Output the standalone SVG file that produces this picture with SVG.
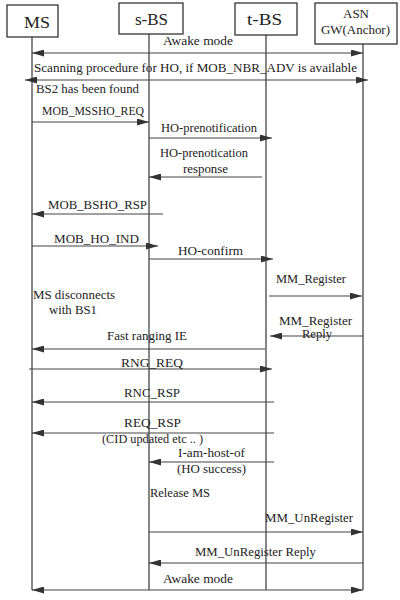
<svg xmlns="http://www.w3.org/2000/svg" width="400" height="600" viewBox="0 0 400 600">
<style>
text{font-family:"Liberation Serif","Times New Roman",serif;fill:#222;font-size:12px}
.box{fill:#fff;stroke:#333;stroke-width:1.3}
.big{font-size:17px}
.life{stroke:#444;stroke-width:1.3}
.msg{stroke:#444;stroke-width:1.2;fill:none}
.r{marker-end:url(#ah)}
.l{marker-start:url(#ahs)}
</style>
<defs>
<marker id="ah" markerUnits="userSpaceOnUse" markerWidth="13" markerHeight="8" refX="12" refY="3.5" orient="auto"><path d="M0,0 L12,3.5 L0,7 z" fill="#333"/></marker>
<marker id="ahs" markerUnits="userSpaceOnUse" markerWidth="13" markerHeight="8" refX="0" refY="3.5" orient="auto"><path d="M12,0 L0,3.5 L12,7 z" fill="#333"/></marker>
</defs>
<rect width="400" height="600" fill="#fff"/>
<g id="lifelines">
<line class="life" x1="32" y1="37" x2="32" y2="590"/>
<line class="life" x1="149" y1="34" x2="149" y2="590"/>
<line class="life" x1="266" y1="35" x2="266" y2="590"/>
<line class="life" x1="363" y1="44" x2="363" y2="590"/>
</g>
<g id="ms"><rect class="box" x="7" y="5" width="51" height="32"/><text class="big" x="24" y="28" textLength="26" lengthAdjust="spacingAndGlyphs">MS</text></g>
<g id="sbs"><rect class="box" x="119" y="3" width="64" height="31"/><text class="big" x="135" y="25" textLength="33" lengthAdjust="spacingAndGlyphs">s-BS</text></g>
<g id="tbs"><rect class="box" x="235" y="3" width="62" height="32"/><text class="big" x="247" y="25" textLength="35" lengthAdjust="spacingAndGlyphs">t-BS</text></g>
<g id="asn"><rect class="box" x="315" y="3" width="82" height="41"/><text x="343" y="18" textLength="26" lengthAdjust="spacingAndGlyphs">ASN</text><text x="321" y="34" textLength="69" lengthAdjust="spacingAndGlyphs">GW(Anchor)</text></g>
<g id="connectors">
<line class="msg r l" x1="32" y1="53" x2="363" y2="53"/>
<line class="msg r l" x1="25" y1="80" x2="368" y2="80"/>
<line class="msg r" x1="32" y1="122" x2="149" y2="122"/>
<line class="msg r" x1="149" y1="138" x2="272" y2="138"/>
<line class="msg l" x1="149" y1="177" x2="262" y2="177"/>
<line class="msg l" x1="32" y1="214" x2="163" y2="214"/>
<line class="msg r" x1="32" y1="246" x2="158" y2="246"/>
<line class="msg r" x1="149" y1="259" x2="273" y2="259"/>
<line class="msg r" x1="269" y1="296" x2="362" y2="296"/>
<line class="msg l" x1="270" y1="336" x2="363" y2="336"/>
<line class="msg l" x1="32" y1="349" x2="265" y2="349"/>
<line class="msg r" x1="29" y1="369" x2="272" y2="369"/>
<line class="msg l" x1="32" y1="402" x2="274" y2="402"/>
<line class="msg l" x1="32" y1="433" x2="274" y2="433"/>
<line class="msg l" x1="149" y1="462" x2="274" y2="462"/>
<line class="msg r" x1="149" y1="532" x2="363" y2="532"/>
<line class="msg l" x1="149" y1="563" x2="363" y2="563"/>
<line class="msg r l" x1="32" y1="590" x2="363" y2="590"/>
</g>
<g id="labels">
<text x="163" y="45" textLength="70" lengthAdjust="spacingAndGlyphs">Awake mode</text>
<text x="34" y="72" textLength="323" lengthAdjust="spacingAndGlyphs">Scanning procedure for HO, if MOB_NBR_ADV is available</text>
<text x="36" y="93" textLength="103" lengthAdjust="spacingAndGlyphs">BS2 has been found</text>
<text x="42" y="115" textLength="102" lengthAdjust="spacingAndGlyphs">MOB_MSSHO_REQ</text>
<text x="161" y="132" textLength="96" lengthAdjust="spacingAndGlyphs">HO-prenotification</text>
<text x="160" y="157" textLength="88" lengthAdjust="spacingAndGlyphs">HO-prenotication</text>
<text x="183" y="173" textLength="45" lengthAdjust="spacingAndGlyphs">response</text>
<text x="48" y="209" textLength="99" lengthAdjust="spacingAndGlyphs">MOB_BSHO_RSP</text>
<text x="54" y="243" textLength="85" lengthAdjust="spacingAndGlyphs">MOB_HO_IND</text>
<text x="178" y="255" textLength="65" lengthAdjust="spacingAndGlyphs">HO-confirm</text>
<text x="276" y="283" textLength="70" lengthAdjust="spacingAndGlyphs">MM_Register</text>
<text x="33" y="299" textLength="82" lengthAdjust="spacingAndGlyphs">MS disconnects</text>
<text x="49" y="314" textLength="48" lengthAdjust="spacingAndGlyphs">with BS1</text>
<text x="279" y="325" textLength="73" lengthAdjust="spacingAndGlyphs">MM_Register</text>
<text x="302" y="338" textLength="30" lengthAdjust="spacingAndGlyphs">Reply</text>
<text x="107" y="340" textLength="80" lengthAdjust="spacingAndGlyphs">Fast ranging IE</text>
<text x="121" y="367" textLength="62" lengthAdjust="spacingAndGlyphs">RNG_REQ</text>
<text x="124" y="397" textLength="56" lengthAdjust="spacingAndGlyphs">RNC_RSP</text>
<text x="124" y="427" textLength="57" lengthAdjust="spacingAndGlyphs">REQ_RSP</text>
<text x="102" y="443" textLength="101" lengthAdjust="spacingAndGlyphs">(CID updated etc .. )</text>
<text x="178" y="457" textLength="67" lengthAdjust="spacingAndGlyphs">I-am-host-of</text>
<text x="177" y="473" textLength="69" lengthAdjust="spacingAndGlyphs">(HO success)</text>
<text x="150" y="497" textLength="60" lengthAdjust="spacingAndGlyphs">Release MS</text>
<text x="265" y="522" textLength="88" lengthAdjust="spacingAndGlyphs">MM_UnRegister</text>
<text x="195" y="556" textLength="121" lengthAdjust="spacingAndGlyphs">MM_UnRegister Reply</text>
<text x="163" y="583" textLength="70" lengthAdjust="spacingAndGlyphs">Awake mode</text>
</g>
</svg>
